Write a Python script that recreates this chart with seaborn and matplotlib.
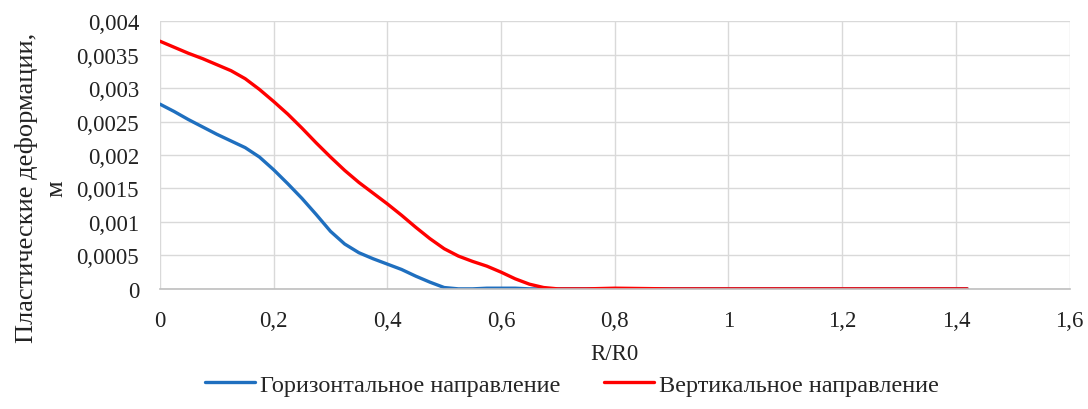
import numpy as np
import pandas as pd
import seaborn as sns
import matplotlib.pyplot as plt
from matplotlib.ticker import FuncFormatter

# values
r_ratio = [0.0, 0.025, 0.05, 0.075, 0.1, 0.125, 0.15, 0.175, 0.2, 0.225, 0.25,
           0.275, 0.3, 0.325, 0.35, 0.375, 0.4, 0.425, 0.45, 0.475, 0.5, 0.525,
           0.55, 0.575, 0.6, 0.625, 0.65, 0.675, 0.7, 0.75, 0.8, 0.9, 1.0,
           1.1, 1.2, 1.3, 1.42]
horizontal = [0.00276, 0.00265, 0.00253, 0.00242, 0.00231, 0.00221, 0.00211,
              0.00197, 0.00178, 0.00157, 0.00135, 0.00111, 0.00086, 0.00067,
              0.00054, 0.00045, 0.00037, 0.00029, 0.00019, 0.00010, 0.00002,
              0.0, 0.0, 0.00001, 0.00001, 0.00001, 0.0, 0.0, 0.0, 0.0, 0.0,
              0.0, 0.0, 0.0, 0.0, 0.0, 0.0]
vertical = [0.00370, 0.00361, 0.00352, 0.00344, 0.00335, 0.00326, 0.00314,
            0.00298, 0.00280, 0.00261, 0.00240, 0.00218, 0.00197, 0.00177,
            0.00159, 0.00143, 0.00127, 0.00110, 0.00092, 0.00075, 0.00060,
            0.00049, 0.00041, 0.00034, 0.00025, 0.00015, 0.00007, 0.00002,
            0.0, 0.0, 0.00001, 0.0, 0.0, 0.0, 0.0, 0.0, 0.0]
labels = ["Горизонтальное направление", "Вертикальное направление"]

df = pd.DataFrame({
    "x": r_ratio * 2,
    "y": horizontal + vertical,
    "series": [labels[0]] * len(r_ratio) + [labels[1]] * len(r_ratio),
})

sns.set_style("white")
plt.rcParams['font.family'] = 'serif'
plt.rcParams['font.serif'] = ['Liberation Serif', 'Times New Roman', 'Tinos',
                              'Nimbus Roman', 'DejaVu Serif']

fig = plt.figure(figsize=(10.88, 4.10), dpi=100)
ax = fig.add_axes([0.147, 0.293, 0.836, 0.653])

sns.lineplot(data=df, x="x", y="y", hue="series",
             palette=["#1f6fbf", "#ff0000"], linewidth=2.4, ax=ax)

ax.set_xlim(0, 1.6)
ax.set_ylim(0, 0.004)
ax.set_xticks(np.arange(0, 1.61, 0.2))
ax.set_yticks(np.arange(0, 0.00401, 0.0005))

def comma_fmt(v, pos):
    s = f"{v:.4f}".rstrip("0").rstrip(".")
    if s == "-0":
        s = "0"
    return s.replace(".", ",")

ax.xaxis.set_major_formatter(FuncFormatter(comma_fmt))
ax.yaxis.set_major_formatter(FuncFormatter(comma_fmt))
ax.tick_params(axis="both", labelsize=16.5, length=0, colors="#222222")
ax.tick_params(axis="x", pad=15)
ax.tick_params(axis="y", pad=15)

ax.grid(True, color="#d9d9d9", linewidth=1)
for side in ["top", "right", "left"]:
    ax.spines[side].set_visible(False)
ax.spines["bottom"].set_color("#bfbfbf")
ax.spines["bottom"].set_linewidth(1.2)

ax.set_xlabel("R/R0", fontsize=16.5, labelpad=9, color="#222222")
ax.set_ylabel("Пластические деформации,\nм", fontsize=19, color="#222222",
              linespacing=1.4)
ax.yaxis.set_label_coords(-0.102, 0.38)

ax.legend(loc="upper center", bbox_to_anchor=(0.453, -0.235), ncol=2,
          frameon=False, fontsize=17.5, handlelength=2.05, handletextpad=0.2,
          columnspacing=1.8)

fig.savefig("out.png", dpi=100)
